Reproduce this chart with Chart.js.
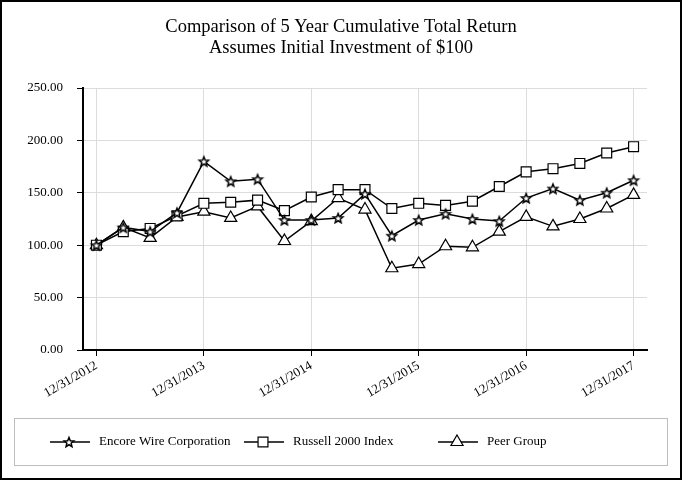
<!DOCTYPE html>
<html>
<head>
<meta charset="utf-8">
<script src="https://cdn.jsdelivr.net/npm/chart.js@4/dist/chart.umd.min.js"></script>
<style>
  html, body { margin: 0; padding: 0; background: #fff; }
  #wrap { width: 682px; height: 480px; }
</style>
</head>
<body>
<div id="wrap"><canvas id="grafico" width="682" height="480"></canvas></div>
<script>
const datas = [
    '12/31/2012', '3/31/2013', '6/30/2013', '9/30/2013',
    '12/31/2013', '3/31/2014', '6/30/2014', '9/30/2014',
    '12/31/2014', '3/31/2015', '6/30/2015', '9/30/2015',
    '12/31/2015', '3/31/2016', '6/30/2016', '9/30/2016',
    '12/31/2016', '3/31/2017', '6/30/2017', '9/30/2017',
    '12/31/2017'
];
const encore = [100, 117, 113, 131, 180, 161, 163, 124, 124, 126, 149, 109, 124, 130, 125, 123, 145, 154, 143, 150, 162];
const russell = [100, 113, 116, 128, 140, 141, 143, 133, 146, 153, 153, 135, 140, 138, 142, 156, 170, 173, 178, 188, 194];
const peer = [100, 117, 107, 127, 132, 126, 137, 104, 123, 145, 134, 78, 82, 99, 98, 113, 127, 118, 125, 135, 148];
const titulo = ['Comparison of 5 Year Cumulative Total Return', 'Assumes Initial Investment of $100'];
const ticksY = [0, 50, 100, 150, 200, 250];

const fonte = "'Liberation Serif', 'Times New Roman', serif";
Chart.defaults.font.family = fonte;
Chart.defaults.color = '#000';

// estrela de 5 pontas (o 'star' do Chart.js e um asterisco)
function criarEstrela(r) {
    const c = document.createElement('canvas');
    const s = Math.ceil(r * 2 + 4);
    c.width = s; c.height = s;
    const ctx = c.getContext('2d');
    ctx.beginPath();
    for (let i = 0; i < 10; i++) {
        const rr = i % 2 === 0 ? r : r * 0.45;
        const a = -Math.PI / 2 + i * Math.PI / 5;
        const x = s / 2 + rr * Math.cos(a), y = s / 2 + 0.5 + rr * Math.sin(a);
        if (i === 0) ctx.moveTo(x, y); else ctx.lineTo(x, y);
    }
    ctx.closePath();
    ctx.fillStyle = '#fff';
    ctx.fill();
    ctx.lineWidth = 1.5;
    ctx.strokeStyle = '#000';
    ctx.stroke();
    return c;
}
const estrela = criarEstrela(5);

const moldura = {
    id: 'moldura',
    afterDraw(chart) {
        const ctx = chart.ctx;
        ctx.save();
        // titulo
        ctx.fillStyle = '#000';
        ctx.font = '18.5px ' + fonte;
        ctx.textAlign = 'center';
        ctx.textBaseline = 'middle';
        titulo.forEach((t, i) => ctx.fillText(t, chart.width / 2, 27 + i * 21));
        // borda externa
        ctx.lineWidth = 2;
        ctx.strokeStyle = '#000';
        ctx.strokeRect(1, 1, chart.width - 2, chart.height - 2);
        // caixa da legenda
        ctx.lineWidth = 1;
        ctx.strokeStyle = '#bdbdbd';
        ctx.strokeRect(14.5, 418.5, 653, 47);
        const posX = [50, 244, 438];
        const y = 442;
        ctx.font = '13px ' + fonte;
        ctx.textAlign = 'left';
        chart.data.datasets.forEach((ds, i) => {
            const x0 = posX[i];
            ctx.strokeStyle = '#000';
            ctx.lineWidth = 1.5;
            ctx.beginPath();
            ctx.moveTo(x0, y);
            ctx.lineTo(x0 + 40, y);
            ctx.stroke();
            ctx.fillStyle = '#fff';
            ctx.lineWidth = 1.2;
            Chart.helpers.drawPoint(ctx, {
                pointStyle: ds.pointStyle, radius: ds.pointRadius, borderWidth: 1.2, rotation: 0
            }, x0 + 19, y);
            ctx.fillStyle = '#000';
            ctx.fillText(ds.label, x0 + 49, y);
        });
        ctx.restore();
    }
};

const estilo = {
    borderColor: '#000',
    borderWidth: 1.5,
    pointBackgroundColor: '#fff',
    pointBorderColor: '#000',
    pointBorderWidth: 1.2,
    tension: 0
};

new Chart(document.getElementById('grafico'), {
    type: 'line',
    data: {
        labels: datas,
        datasets: [
            { ...estilo, label: 'Encore Wire Corporation', data: encore, pointStyle: estrela, pointRadius: 5 },
            { ...estilo, label: 'Russell 2000 Index', data: russell, pointStyle: 'rect', pointRadius: 7 },
            { ...estilo, label: 'Peer Group', data: peer, pointStyle: 'triangle', pointRadius: 7 }
        ]
    },
    options: {
        responsive: false,
        animation: false,
        layout: { padding: { top: 88, right: 35, bottom: 0, left: 0 } },
        plugins: { legend: { display: false }, title: { display: false }, tooltip: { enabled: false } },
        scales: {
            x: {
                offset: true,
                afterFit(scale) { scale.height = 130; },
                border: { display: true, color: '#000', width: 2 },
                grid: {
                    offset: false,
                    color: c => c.index % 4 === 0 ? '#dcdcdc' : 'rgba(0,0,0,0)',
                    tickColor: c => c.index % 4 === 0 ? '#000' : 'rgba(0,0,0,0)',
                    tickLength: 6
                },
                ticks: {
                    autoSkip: false,
                    minRotation: 30,
                    maxRotation: 30,
                    padding: 2,
                    font: { size: 13 },
                    callback(v, i) { return i % 4 === 0 ? datas[i] : ''; }
                }
            },
            y: {
                min: 0,
                max: 250,
                afterFit(scale) { scale.width = 83; },
                afterBuildTicks(scale) { scale.ticks = ticksY.map(v => ({ value: v })); },
                border: { display: true, color: '#000', width: 2 },
                grid: { color: '#dcdcdc', tickColor: '#000', tickLength: 6 },
                ticks: {
                    padding: 14,
                    font: { size: 13 },
                    callback: v => v.toFixed(2)
                }
            }
        }
    },
    plugins: [moldura]
});
</script>
</body>
</html>
